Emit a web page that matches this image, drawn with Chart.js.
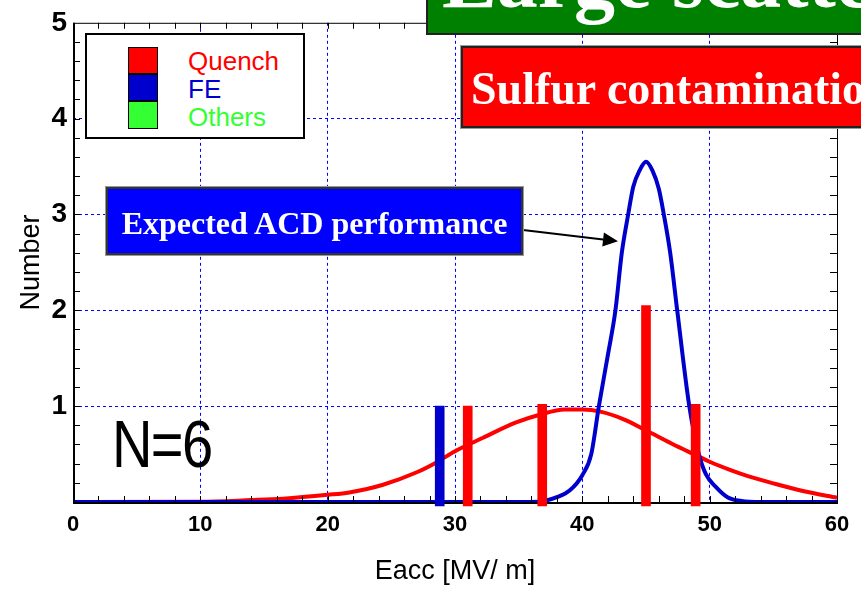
<!DOCTYPE html>
<html>
<head>
<meta charset="utf-8">
<script src="https://cdn.jsdelivr.net/npm/chart.js@4/dist/chart.umd.min.js"></script>
<style>
  html, body { margin: 0; padding: 0; background: #fff; }
  #wrap { position: relative; width: 861px; height: 589px; overflow: hidden; }
  canvas { position: absolute; left: 0; top: 0; }
  .box { position: absolute; box-sizing: border-box; }
  .serif { font-family: "Liberation Serif", "Times New Roman", serif; font-weight: bold; color: #fff; white-space: nowrap; line-height: 1; position: absolute; }
  .sans { font-family: "Liberation Sans", Arial, sans-serif; white-space: nowrap; position: absolute; }
</style>
</head>
<body>
<div id="wrap">
  <canvas id="c" width="861" height="589"></canvas>

  <!-- legend -->
  <div class="box" style="left:85px;top:33px;width:220px;height:106px;background:#fff;border:2px solid #000;"></div>
  <div id="legendSw"></div>
  <div id="legendTx"></div>

  <!-- N=6 -->
  <div class="sans" id="nlabel" style="left:112px;top:411px;font-size:66px;line-height:1;letter-spacing:-2px;color:#000;transform:scaleX(0.85);transform-origin:0 0;"></div>

  <!-- green title box -->
  <div class="box" style="left:426px;top:-20px;width:460px;height:55px;background:#008000;border:2px solid #222;"></div>
  <div class="serif" id="greenTx" style="left:442px;top:-61px;font-size:82px;"></div>

  <!-- red box -->
  <div class="box" style="left:461px;top:46px;width:420px;height:82px;background:#ff0000;border:2px solid #222;box-shadow:0 0 0 1px #999;"></div>
  <div class="serif" id="redTx" style="left:471px;top:66px;font-size:46px;"></div>

  <!-- blue box -->
  <div class="box" style="left:106px;top:187px;width:417px;height:68px;background:#0000ff;border:2px solid #333;box-shadow:0 0 0 1px #999;"></div>
  <div class="serif" id="blueTx" style="left:106px;width:417px;text-align:center;top:207px;font-size:32px;"></div>
</div>

<script>
// ---------------- data ----------------
const xTickValues = [0, 10, 20, 30, 40, 50, 60];
const yTickValues = [1, 2, 3, 4, 5];

// measured cavities (bars): position along Eacc, count
const quenchX = [31.0, 36.85, 45.0, 48.9];
const quenchN = [1.0, 1.02, 2.05, 1.02];
const feX = [28.8];
const feN = [1.0];
const othersX = [];
const othersN = [];

// fitted distribution of the measured (quench) data
const fitX = [0, 10, 14, 16.5, 20, 21.7, 24.35, 27, 28.5, 30, 32.2, 34.8, 36.65, 38.6, 40, 41.5, 43.3, 45.1, 47, 49.05, 50, 51.7, 53, 55, 57.5, 60];
const fitY = [0, 0.002, 0.02, 0.035, 0.075, 0.10, 0.18, 0.31, 0.41, 0.53, 0.67, 0.83, 0.91, 0.965, 0.965, 0.94, 0.86, 0.74, 0.61, 0.48, 0.42, 0.33, 0.27, 0.195, 0.11, 0.045];

// expected ACD performance
const acdX = [0, 36, 37, 38, 39, 40, 40.7, 41.3, 42, 42.6, 43.1, 43.6, 44, 44.5, 45, 45.5, 46, 46.4, 46.9, 47.45, 48.4, 49.15, 49.7, 50.5, 51.4, 52.5, 54, 60];
const acdY = [0, 0, 0.01, 0.05, 0.12, 0.28, 0.5, 1.0, 1.53, 2.0, 2.6, 3.0, 3.29, 3.46, 3.55, 3.46, 3.27, 3.0, 2.6, 2.0, 1.0, 0.5, 0.29, 0.155, 0.05, 0.01, 0, 0];

const legendLabels = ['Quench', 'FE', 'Others'];
const legendColors = ['#ff0000', '#0000cc', '#33ff33'];
const xTitle = 'Eacc [MV/ m]';
const yTitle = 'Number';
const countLabel = 'N=6';
const titleGreen = 'Large scatter';
const titleRed = 'Sulfur contamination';
const titleBlue = 'Expected ACD performance';
const barBase = -0.04;

// ---------------- overlays (text) ----------------
document.getElementById('nlabel').textContent = countLabel;
document.getElementById('greenTx').textContent = titleGreen;
document.getElementById('redTx').textContent = titleRed;
document.getElementById('blueTx').textContent = titleBlue;
(function () {
  const sw = document.getElementById('legendSw');
  const tx = document.getElementById('legendTx');
  legendLabels.forEach((lab, i) => {
    const s = document.createElement('div');
    s.className = 'box';
    s.style.cssText = `left:128px;top:${47 + i * 27}px;width:30px;height:${i === 2 ? 28 : 27}px;background:${legendColors[i]};border:1px solid #000;`;
    sw.appendChild(s);
    const t = document.createElement('div');
    t.className = 'sans';
    t.style.cssText = `left:188px;top:${47 + i * 28}px;font-size:26px;line-height:28px;color:${legendColors[i]};`;
    t.textContent = lab;
    tx.appendChild(t);
  });
})();

// ---------------- chart ----------------
const fitData = fitX.map((x, i) => ({ x, y: fitY[i] }));
const acdData = acdX.map((x, i) => ({ x, y: acdY[i] }));
const quenchData = quenchX.map((x, i) => ({ x, y: [barBase, quenchN[i]] }));
const feData = feX.map((x, i) => ({ x, y: [barBase, feN[i]] }));

const frameAndArrow = {
  id: 'frameAndArrow',
  afterDatasetDraw(chart, args) {
    if (args.index !== 1) return; // after ACD curve, before bars
    const { ctx, chartArea: a, scales } = chart;
    const xs = scales.x, ys = scales.y;
    ctx.save();
    ctx.strokeStyle = '#000';
    ctx.setLineDash([]);
    ctx.lineWidth = 1;
    ctx.beginPath();
    for (let v = 2; v < 60; v += 2) {
      const px = Math.round(xs.getPixelForValue(v)) + 0.5;
      ctx.moveTo(px, a.bottom); ctx.lineTo(px, a.bottom - 6);
      ctx.moveTo(px, a.top); ctx.lineTo(px, a.top + 6);
    }
    for (let k = 1; k < 25; k++) {
      const v = k * 0.2;
      const py = Math.round(ys.getPixelForValue(v)) + 0.5;
      ctx.moveTo(a.left, py); ctx.lineTo(a.left + 7, py);
      ctx.moveTo(a.right, py); ctx.lineTo(a.right - 7, py);
    }
    ctx.stroke();
    ctx.lineWidth = 1;
    ctx.beginPath();
    ctx.moveTo(a.left, a.top + 0.5); ctx.lineTo(a.right + 0.5, a.top + 0.5);
    ctx.lineTo(a.right + 0.5, a.bottom);
    ctx.stroke();
    ctx.lineWidth = 2;
    ctx.beginPath();
    ctx.moveTo(a.left + 1, a.top); ctx.lineTo(a.left + 1, a.bottom + 2);
    ctx.moveTo(a.left, a.bottom + 1); ctx.lineTo(a.right + 1, a.bottom + 1);
    ctx.stroke();
    ctx.restore();
  },
  afterDraw(chart) {
    const { ctx, scales } = chart;
    const x0 = 523, y0 = 230;
    const x1 = scales.x.getPixelForValue(42.8), y1 = scales.y.getPixelForValue(2.72);
    const dx = x1 - x0, dy = y1 - y0, L = Math.hypot(dx, dy);
    const ux = dx / L, uy = dy / L;
    const hl = 15, hw = 7;
    const bx = x1 - ux * hl, by = y1 - uy * hl;
    ctx.save();
    ctx.strokeStyle = '#000'; ctx.fillStyle = '#000'; ctx.lineWidth = 2;
    ctx.beginPath(); ctx.moveTo(x0, y0); ctx.lineTo(bx, by); ctx.stroke();
    ctx.beginPath();
    ctx.moveTo(x1, y1);
    ctx.lineTo(bx - uy * hw, by + ux * hw);
    ctx.lineTo(bx + uy * hw, by - ux * hw);
    ctx.closePath(); ctx.fill();
    ctx.restore();
  }
};

const gridColor = (max) => (ctx) => {
  const v = ctx.tick ? ctx.tick.value : null;
  return (v === 0 || v === max) ? 'rgba(0,0,0,0)' : '#0000ff';
};

new Chart(document.getElementById('c'), {
  type: 'line',
  data: {
    datasets: [
      { type: 'line', order: 5, label: 'fit', data: fitData, borderColor: '#ff0000', borderWidth: 4, pointRadius: 0, cubicInterpolationMode: 'monotone', fill: false, clip: 4 },
      { type: 'line', order: 4, label: 'ACD', data: acdData, borderColor: '#0000cc', borderWidth: 4, pointRadius: 0, cubicInterpolationMode: 'monotone', fill: false, clip: 4 },
      { type: 'bar', order: 3, label: legendLabels[1], data: feData, backgroundColor: legendColors[1], barThickness: 9, grouped: false, clip: false, borderWidth: 0 },
      { type: 'bar', order: 2, label: legendLabels[0], data: quenchData, backgroundColor: legendColors[0], barThickness: 9, grouped: false, clip: false, borderWidth: 0 },
      { type: 'bar', order: 1, label: legendLabels[2], data: othersX.map((x, i) => ({ x, y: [barBase, othersN[i]] })), backgroundColor: legendColors[2], barThickness: 9, grouped: false, clip: false }
    ]
  },
  options: {
    responsive: false,
    devicePixelRatio: 1,
    animation: false,
    layout: { padding: { left: 0, top: 18, right: 24, bottom: 0 } },
    plugins: { legend: { display: false }, tooltip: { enabled: false } },
    scales: {
      x: {
        type: 'linear', min: 0, max: 60, offset: false,
        afterBuildTicks: (s) => { s.ticks = xTickValues.map(v => ({ value: v })); },
        afterFit: (s) => { s.height = 87; },
        ticks: { color: '#000', font: { family: 'Liberation Sans, Arial, sans-serif', size: 22, weight: 'bold' }, padding: 10, maxRotation: 0, autoSkip: false },
        grid: { color: gridColor(60), lineWidth: 1, drawTicks: false, offset: false },
        border: { display: false, dash: [3, 3] },
        title: { display: true, text: xTitle, color: '#000', font: { family: 'Liberation Sans, Arial, sans-serif', size: 27, lineHeight: 1.2 }, padding: { top: 0, bottom: 1 } }
      },
      y: {
        type: 'linear', min: 0, max: 5,
        afterBuildTicks: (s) => { s.ticks = [0].concat(yTickValues).map(v => ({ value: v })); },
        afterFit: (s) => { s.width = 73; },
        ticks: { color: '#000', font: { family: 'Liberation Sans, Arial, sans-serif', size: 28, weight: 'bold' }, padding: 6, callback: (v) => (v === 0 ? '' : String(v)) },
        grid: { color: gridColor(5), lineWidth: 1, drawTicks: false, offset: false },
        border: { display: false, dash: [3, 3] },
        title: { display: true, text: yTitle, color: '#000', font: { family: 'Liberation Sans, Arial, sans-serif', size: 27, lineHeight: 1.2 }, padding: { top: 15, bottom: 0 } }
      }
    }
  },
  plugins: [frameAndArrow]
});
</script>
</body>
</html>
